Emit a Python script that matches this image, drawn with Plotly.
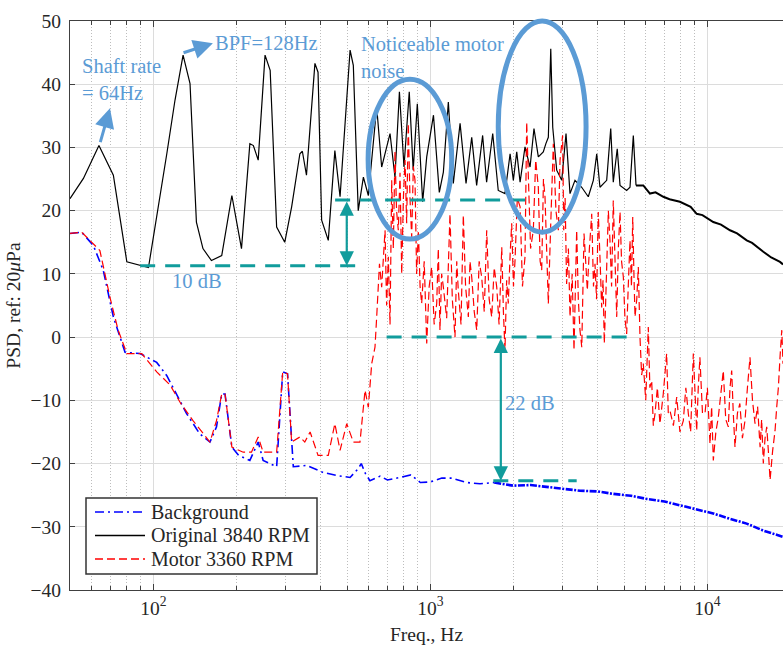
import math
import plotly.graph_objects as go

# ---------------- data ----------------
bg_f = [50, 55.1, 60.7, 65.9, 71.7, 79, 89.6, 102.8, 111.8, 121.5, 131.8, 147, 160, 169, 176.5,
        181.4, 192, 203, 223, 239, 249, 278.6, 293, 305, 320, 357, 410, 459, 513, 549, 563, 583,
        605, 658, 700, 777, 850, 920, 1000, 1100, 1194, 1350, 1510, 1700, 1990, 2300, 2640, 3000,
        3470, 4000, 4580, 5300, 6050, 7000, 7960, 9200, 10500, 12000, 13860, 15920, 18750]
bg_db = [16.4, 16.6, 14.5, 10.6, 3.2, -2.4, -2.6, -4.0, -6.1, -9.2, -12.1, -15.3, -16.6, -14.2, -9.0,
         -9.0, -17.4, -18.7, -19.5, -16.6, -19.5, -20.5, -5.5, -5.8, -20.5, -20.3, -21.4, -21.9, -22.2,
         -20.8, -20.0, -21.6, -22.7, -22.0, -22.6, -22.2, -21.8, -23.0, -22.9, -22.3, -22.3, -23.0,
         -23.2, -23.0, -23.5, -23.4, -23.7, -23.9, -24.3, -24.4, -24.8, -25.1, -25.6, -26.0, -26.6,
         -27.2, -27.9, -28.7, -29.5, -30.6, -31.6]

orig_f = [50, 55.9, 63.6, 71.7, 80.2, 89.6, 96, 111.8, 119.7, 128, 135.6, 143, 151, 162, 176.5,
          192, 208, 223, 229.6, 239, 253, 264, 278.6, 298, 315.6, 338, 345, 357, 383, 393, 405, 428,
          452, 472, 513, 527, 549, 573, 597, 640, 667, 715, 745, 773, 803, 839, 867, 897, 938, 970,
          1026, 1077, 1114, 1161, 1210, 1280, 1345, 1410, 1469, 1544, 1596, 1679, 1758, 1859, 1940,
          1993, 2050, 2108, 2196, 2290, 2366, 2453, 2556, 2612, 2666, 2720, 2765, 2858, 2980, 3088,
          3192, 3327, 3518, 3716, 3875, 3986, 4094, 4330, 4478, 4574, 4727, 4838, 5112, 5256, 5403,
          5525, 5870, 6205, 6500, 6934, 7300, 7960, 8300, 8700, 9150, 9600, 10505, 11200, 12070,
          12800, 13867, 14500, 15920, 17000, 18290, 18750]
orig_db = [21.9, 25.1, 30.3, 25.6, 11.9, 11.3, 11.0, 29.0, 37.5, 44.6, 40.1, 18.2, 14.0, 12.1, 12.9,
           22.4, 14.0, 30.6, 30.3, 28.0, 44.6, 42.2, 17.4, 15.0, 20.6, 29.0, 29.4, 25.6, 43.3, 41.9,
           18.5, 15.3, 29.5, 22.2, 45.4, 43.0, 20.0, 25.3, 22.4, 36.4, 26.9, 32.2, 25.3, 38.8, 26.9,
           38.8, 26.4, 36.9, 21.4, 28.5, 35.1, 22.9, 26.1, 37.2, 24.3, 33.8, 24.3, 31.6, 24.0, 31.9,
           24.5, 32.2, 23.2, 22.7, 29.0, 24.8, 29.3, 24.5, 30.1, 26.9, 33.0, 28.5, 29.3, 30.6, 31.6,
           45.6, 33.2, 26.4, 24.8, 32.2, 22.7, 24.8, 23.7, 22.2, 24.8, 29.0, 23.7, 24.8, 33.0, 24.5,
           29.8, 24.0, 23.2, 23.7, 31.9, 24.0, 24.0, 22.7, 22.9, 22.2, 21.8, 21.4, 21.0, 20.6, 19.5,
           19.3, 18.2, 17.8, 16.9, 16.4, 15.3, 14.9, 13.5, 12.6, 11.9, 11.5]

motor_f = [50, 55.1, 64.1, 69.7, 74.6, 80.2, 90.8, 102.8, 115, 124.8, 139, 160, 169, 176.5, 181.4,
           192, 211, 226, 239, 249, 278.6, 293, 305, 315.6, 338, 352, 368, 393, 428, 452, 472, 499,
           527, 557, 581, 597, 614, 631, 640, 655, 667,
           686, 695, 705, 715, 725, 735, 745, 755, 766, 777, 788, 799, 810, 821, 832, 844, 856, 868,
           880, 892, 905, 918, 930, 950, 970, 990, 1011, 1032, 1054, 1068, 1083, 1098, 1114, 1145,
           1177, 1200, 1227, 1245, 1261, 1290, 1315, 1340, 1371, 1390, 1410, 1440, 1470, 1500, 1532,
           1565, 1597, 1630, 1665, 1700, 1736, 1770, 1810, 1835, 1859, 1885, 1911, 1940, 1966, 1995,
           2021, 2060, 2108, 2150, 2196, 2227, 2257, 2300, 2353, 2400, 2453, 2490, 2523, 2560, 2593,
           2630, 2666, 2720, 2779, 2840, 2897, 2938, 3002, 3030, 3065, 3103, 3150, 3192, 3250, 3300,
           3340, 3374, 3420, 3468, 3520, 3550, 3586, 3636, 3686, 3750, 3823, 3880, 3929, 3980, 4037,
           4100, 4153, 4200, 4245, 4290, 4330, 4390, 4450, 4510, 4574, 4640, 4706, 4770, 4838, 4900,
           4973, 5040, 5112, 5180, 5256, 5320, 5377, 5430, 5480, 5560, 5632, 5711, 5790, 5870, 5990,
           6119, 6200, 6295, 6380, 6471, 6600, 6742, 6930, 7128, 7225, 7325, 7540, 7750, 7960, 8189,
           8360, 8536, 8700, 8898, 9020, 9150, 9270, 9397, 9600, 9804, 10000, 10220, 10360, 10505,
           10730, 10950, 11180, 11415, 11650, 11900, 12070, 12240, 12400, 12580, 12840, 13100, 13380,
           13670, 13950, 14250, 14550, 14860, 15180, 15500, 15700, 15920, 16150, 16380, 16600, 16840,
           17200, 17550, 17800, 18040, 18300, 18560, 18750]
motor_db = [16.4, 16.6, 13.7, 6.3, 1.1, -2.6, -2.6, -5.5, -7.6, -10.3, -13.2, -16.6, -13.2, -9.0, -9.0,
            -17.4, -18.2, -18.2, -15.8, -18.2, -18.2, -5.5, -5.8, -16.6, -15.8, -16.6, -15.0, -18.7,
            -18.7, -13.7, -17.9, -13.7, -16.6, -16.6, -8.4, -11.1, -4.2, -1.6, 3.2, 11.6, 7.9,
            16.9, 5.0, 12.7, 2.0, 24.8, 14.0, 29.5, 20.0, 16.9, 26.0, 10.0, 22.0, 28.0, 18.0, 33.8,
            22.0, 15.8, 27.0, 24.8, 10.0, 16.9, 8.0, 5.3, 12.0, -1.0, 8.0, 11.1, 2.0, 5.3, 14.0, 1.1,
            10.0, 7.9, 3.0, 19.5, 6.0, 0.0, 12.0, 7.4, 2.0, 19.3, 8.0, 3.2, 12.0, 9.5, 4.0, 1.1, 12.0,
            9.5, 4.0, 16.9, 6.0, 3.2, 11.0, 7.9, 2.0, 14.2, 4.0, -2.1, 9.0, 5.3, 13.0, 18.0, 8.0, 12.1,
            22.0, 20.6, 8.0, 12.7, 34.0, 26.9, 14.0, 16.9, 28.0, 23.7, 12.0, 10.6, 25.0, 22.2, 12.0,
            5.3, 18.0, 30.6, 20.0, 16.9, 28.0, 31.9, 16.9, 22.0, 8.4, 14.0, 3.2, 10.0, -2.1, 8.0, 16.9,
            6.0, 1.1, -1.6, 9.0, 16.4, 12.0, 7.4, 14.0, 19.5, 8.0, 11.6, 6.0, 19.8, 12.0, 4.7, 9.0,
            -1.0, 5.0, 10.6, 20.0, 15.3, 8.0, 21.6, 12.0, 3.2, 14.0, 19.8, 12.0, 9.5, 3.0, 0.5, 8.0,
            15.3, 8.0, 19.0, 10.0, 3.2, 6.0, 11.1, 0.0, -6.0, -4.2, -10.0, 1.6, -8.0, -6.9, -14.0,
            -12.1, -8.0, -13.7, -9.0, -2.6, -12.0, -11.6, -14.0, -9.5, -15.0, -13.2, -8.0, -12.1,
            -15.0, -2.6, -10.0, -14.8, -8.0, -3.2, -12.0, -12.1, -8.0, -16.9, -11.0, -19.5, -15.0,
            -12.7, -9.0, -5.3, -13.0, -14.2, -8.0, -5.3, -12.0, -17.4, -12.0, -10.5, -16.0, -13.2,
            -8.0, -3.2, -10.0, -13.7, -11.0, -17.4, -13.0, -20.0, -16.0, -14.2, -18.0, -22.6, -18.0,
            -14.8, -11.0, -8.0, -3.0, 1.1, -4.2]

# guide lines (freq pairs, dB levels)
guide_10db_f = [89.6, 565]
guide_10db_db = [11.3, 11.3]
guide_top_f = [453, 2254]
guide_top_db = [21.7, 21.7]
guide_0db_f = [695, 5410]
guide_0db_db = [0.0, 0.0]
guide_bg_f = [1687, 3374]
guide_bg_db = [-22.7, -22.7]

x_major = [100, 1000, 10000]
x_major_text = ['10<sup>2</sup>', '10<sup>3</sup>', '10<sup>4</sup>']
x_minor = [60, 70, 80, 90, 200, 300, 400, 500, 600, 700, 800, 900,
           2000, 3000, 4000, 5000, 6000, 7000, 8000, 9000]
y_ticks = [-40, -30, -20, -10, 0, 10, 20, 30, 40, 50]

legend_names = ['Background', 'Original 3840 RPM', 'Motor 3360 RPM']

# ---------------- figure ----------------
W, H = 783, 648
ML, MR, MT, MB = 70, 0, 21, 58
XMIN = math.log10(50)
XMAX = 4.273
YMIN, YMAX = -40, 50
FONT = "Liberation Serif, Times New Roman, serif"
ANN = '#5B9BD5'
TEAL = '#119C9C'
BG_SPLIT = 1700     # above this the dense background record looks like a thick band
OR_SPLIT = 5525     # same for the original record

BG_STYLE = dict(color='#0000FF', width=1.6, dash='9px,4px,2px,4px')
OR_STYLE = dict(color='#000000', width=1.2)
MO_STYLE = dict(color='#FF0000', width=1.2, dash='8px,4px')


def px(f):
    return (math.log10(f) - XMIN) / (XMAX - XMIN)


def py(v):
    return (v - YMIN) / (YMAX - YMIN)


def pix_x(p):
    return (p - ML) / (W - ML - MR)


def pix_y(p):
    return 1 - (p - MT) / (H - MT - MB)


def split(fs, ds, at):
    lo = [(f, d) for f, d in zip(fs, ds) if f <= at]
    hi = [(f, d) for f, d in zip(fs, ds) if f >= at]
    return ([p[0] for p in lo], [p[1] for p in lo]), ([p[0] for p in hi], [p[1] for p in hi])


(bg_lo, bg_hi) = split(bg_f, bg_db, BG_SPLIT)
(or_lo, or_hi) = split(orig_f, orig_db, OR_SPLIT)

fig = go.Figure()
fig.add_trace(go.Scatter(x=bg_lo[0], y=bg_lo[1], mode='lines', name=legend_names[0],
                         showlegend=False, line=BG_STYLE))
fig.add_trace(go.Scatter(x=bg_hi[0], y=bg_hi[1], mode='lines', name=legend_names[0],
                         showlegend=False,
                         line=dict(color='#0000FF', width=2.6, dash='7px,1.5px,2px,1.5px')))
fig.add_trace(go.Scatter(x=or_lo[0], y=or_lo[1], mode='lines', name=legend_names[1],
                         showlegend=False, line=OR_STYLE))
fig.add_trace(go.Scatter(x=or_hi[0], y=or_hi[1], mode='lines', name=legend_names[1],
                         showlegend=False, line=dict(color='#000000', width=2.0)))
fig.add_trace(go.Scatter(x=motor_f, y=motor_db, mode='lines', name=legend_names[2],
                         showlegend=False, line=MO_STYLE))

for gf, gd in [(guide_10db_f, guide_10db_db), (guide_top_f, guide_top_db),
               (guide_0db_f, guide_0db_db), (guide_bg_f, guide_bg_db)]:
    fig.add_trace(go.Scatter(x=gf, y=gd, mode='lines', showlegend=False, hoverinfo='skip',
                             line=dict(color=TEAL, width=3, dash='15px,10px')))

# ellipses
for (f0, f1, d0, d1) in [(596, 1194, 15.5, 40.8), (1758, 3648, 16.6, 50.0)]:
    fig.add_shape(type='circle', xref='paper', yref='paper',
                  x0=px(f0), x1=px(f1), y0=py(d0), y1=py(d1),
                  line=dict(color=ANN, width=5), layer='above')

# legend box (MATLAB style, compact rows)
LX0, LX1, LY0, LY1 = 86, 317, 498, 574
fig.add_shape(type='rect', xref='paper', yref='paper',
              x0=pix_x(LX0), x1=pix_x(LX1), y0=pix_y(LY1), y1=pix_y(LY0),
              line=dict(color='#333333', width=1.5), fillcolor='white', layer='above')
for i, (name, sty) in enumerate(zip(legend_names, [BG_STYLE, OR_STYLE, MO_STYLE])):
    yy = 512 + i * 23.5
    fig.add_shape(type='line', xref='paper', yref='paper',
                  x0=pix_x(95), x1=pix_x(145), y0=pix_y(yy), y1=pix_y(yy),
                  line=dict(color=sty['color'], width=1.4, dash=sty.get('dash', 'solid')),
                  layer='above')
    fig.add_annotation(x=pix_x(149), y=pix_y(yy), xref='paper', yref='paper', text=name,
                       showarrow=False, xanchor='left', yanchor='middle',
                       font=dict(family=FONT, size=20, color='#262626'))

# double arrows (teal)
for (f, top, bot) in [(499, 21.7, 11.3), (1796, 0.0, -22.7)]:
    fig.add_annotation(x=math.log10(f), y=bot, ax=math.log10(f), ay=top,
                       xref='x', yref='y', axref='x', ayref='y', text='',
                       showarrow=True, arrowhead=2, startarrowhead=2, arrowside='end+start',
                       arrowsize=1.3, startarrowsize=1.3, arrowwidth=2.2, arrowcolor=TEAL)

# blue arrows
for (ft, dt, fh, dh) in [(64.1, 30.6, 69.7, 36.2), (126.9, 44.9, 164, 46.5)]:
    fig.add_annotation(x=math.log10(fh), y=dh, ax=math.log10(ft), ay=dt,
                       xref='x', yref='y', axref='x', ayref='y', text='',
                       showarrow=True, arrowhead=2, arrowsize=1.3, arrowwidth=3,
                       arrowcolor=ANN)

texts = [
    ('Shaft rate<br>= 64Hz', 54.3, 45.0, 'left', 'top'),
    ('BPF=128Hz', 164, 46.6, 'left', 'middle'),
    ('Noticeable motor<br>noise', 552, 48.4, 'left', 'top'),
    ('10 dB', 143.7, 8.8, 'center', 'middle'),
    ('22 dB', 2289, -10.5, 'center', 'middle'),
]
for (t, f, d, xa, ya) in texts:
    fig.add_annotation(x=math.log10(f), y=d, xref='x', yref='y', text=t, showarrow=False,
                       xanchor=xa, yanchor=ya, align='left',
                       font=dict(family=FONT, size=20.5, color=ANN))

fig.update_layout(
    width=W, height=H,
    margin=dict(l=ML, r=MR, t=MT, b=MB),
    paper_bgcolor='white', plot_bgcolor='white',
    font=dict(family=FONT, size=19, color='#262626'),
    showlegend=False,
)

fig.update_xaxes(
    type='log', range=[XMIN, XMAX],
    tickvals=x_major, ticktext=x_major_text,
    ticks='inside', ticklen=6, tickcolor='#404040',
    showline=True, linecolor='#404040', linewidth=1.3, mirror='ticks',
    showgrid=True, gridcolor='#dcdcdc', gridwidth=1,
    minor=dict(tickvals=x_minor, ticks='inside', ticklen=3.5, tickcolor='#404040',
               showgrid=True, gridcolor='#bdbdbd', griddash='1px,2px', gridwidth=1),
    tickfont=dict(family=FONT, size=19.5, color='#262626'),
    title=dict(text='Freq., Hz', font=dict(family=FONT, size=19.5, color='#262626'), standoff=9),
    zeroline=False,
)
fig.update_yaxes(
    range=[YMIN, YMAX], tickvals=y_ticks,
    ticks='inside', ticklen=5, tickcolor='#404040',
    showline=True, linecolor='#404040', linewidth=1.3, mirror=False,
    showgrid=True, gridcolor='#dcdcdc', gridwidth=1, zeroline=False,
    tickfont=dict(family=FONT, size=19.5, color='#262626'),
    ticklabelstandoff=4,
    title=dict(text='PSD, ref: 20<i>μ</i>Pa', font=dict(family=FONT, size=19.5, color='#262626'),
               standoff=4),
)

fig.write_html('out.html')
